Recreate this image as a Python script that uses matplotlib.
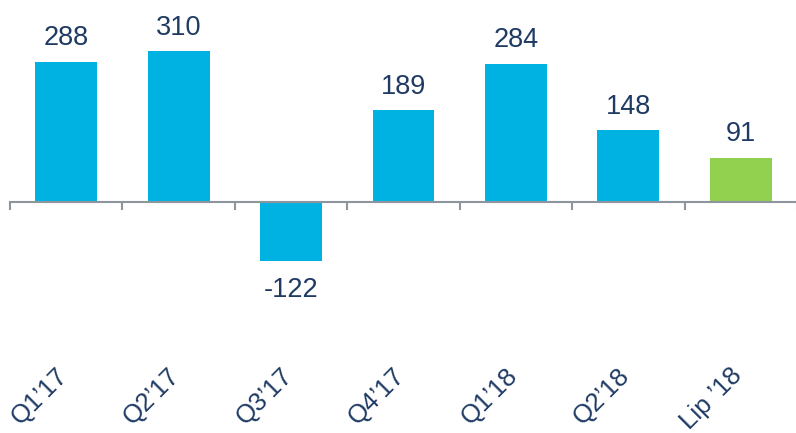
import matplotlib
matplotlib.use("Agg")
import matplotlib.pyplot as plt
from matplotlib.transforms import ScaledTranslation
import numpy as np

categories = ["Q1\u201917", "Q2\u201917", "Q3\u201917", "Q4\u201917", "Q1\u201918", "Q2\u201918", "Lip \u201918"]
values = [288, 310, -122, 189, 284, 148, 91]
colors = ["#00B2E2"] * 6 + ["#92D050"]

plt.rcParams['font.family'] = ['Liberation Sans', 'DejaVu Sans']
text_color = "#1F3B63"
axis_color = "#8E959E"

fig = plt.figure(figsize=(7.96, 4.33), dpi=100)
ax = fig.add_axes([10/796, 1 - 300/433, 787/796, 300/433])

x = np.arange(len(categories))
ax.bar(x, values, width=0.55, color=colors, zorder=2)

ax.set_xlim(-0.5, len(categories) - 0.5)
ax.set_ylim(-201.4, 415.2)

for xi, v in zip(x, values):
    if v >= 0:
        ax.annotate(str(v), (xi, v), xytext=(0, 7.5), textcoords="offset points",
                    ha="center", va="bottom", fontsize=19.5, color=text_color)
    else:
        ax.annotate(str(v), (xi, v), xytext=(0, -11), textcoords="offset points",
                    ha="center", va="top", fontsize=19.5, color=text_color)

for s in ["top", "right", "left"]:
    ax.spines[s].set_visible(False)
ax.spines["bottom"].set_position(("data", 0))
ax.spines["bottom"].set_color(axis_color)
ax.spines["bottom"].set_linewidth(1.5)
ax.set_yticks([])

ax.set_xticks(x)
ax.set_xticklabels(categories, rotation=45, ha="right", va="top",
                   fontsize=18.5, color=text_color)
ax.tick_params(axis="x", which="major", length=0, pad=116)
for lbl in ax.get_xticklabels():
    lbl.set_transform(lbl.get_transform() + ScaledTranslation(6/100, 0, fig.dpi_scale_trans))
ax.set_xticks(np.arange(len(categories) + 1) - 0.5, minor=True)
ax.tick_params(axis="x", which="minor", length=6, width=1.5, color=axis_color, direction="out")

fig.savefig("out.png", dpi=100)
